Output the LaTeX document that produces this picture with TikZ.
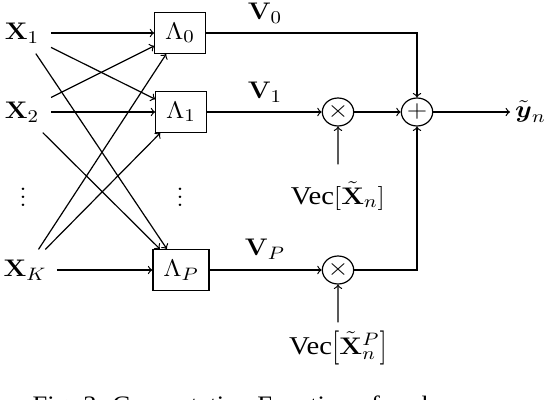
\documentclass[tikz,border=0pt]{standalone}
\usepackage{amsmath}
\usepackage{graphicx}
\usepackage[no-math]{fontspec}
\newfontfamily\tnr{Liberation Serif}
\newcommand{\vecword}{{\tnr\fontsize{12.8}{15}\selectfont Vec}}
\newcommand{\tallbr}[1]{\vcenter{\hbox{\scalebox{1}[1.42]{$#1$}}}}
\begin{document}
\begin{tikzpicture}[x=0.5pt,y=-0.5pt, line width=0.6pt,
  every node/.style={font=\fontsize{12.3}{14}\selectfont, xscale=1.12, transform shape},
  inp/.style={minimum height=20pt, inner xsep=5pt},
  lam/.style={draw, minimum height=20.5pt, inner xsep=4.6pt, inner ysep=0pt},
  op/.style={draw, circle, minimum size=14pt, inner sep=0pt},
  conn/.style={->}]
\useasboundingbox (0,0) rectangle (550,400);
\node[inp] (x1) at (22,33) {$\mathbf{X}_1$};
\node[inp] (x2) at (22,112) {$\mathbf{X}_2$};
\node[inp, inner xsep=4.4pt] (xk) at (25,270) {$\mathbf{X}_K$};
\node (d1) at (23,191) {$\vdots$};
\node[lam] (l0) at (180,33) {$\Lambda_0$};
\node[lam] (l1) at (181,112) {$\Lambda_1$};
\node[lam] (lp) at (181,270) {$\Lambda_P$};
\node (d2) at (180,191) {$\vdots$};
\node[op] (m1) at (338,112) {$\times$};
\node[op] (mp) at (338,270) {$\times$};
\node[op] (s) at (417,112) {$+$};
\node[anchor=west, inner sep=2pt] (y) at (510,112) {$\tilde{\boldsymbol{y}}_n$};
\node[minimum height=31pt] (va) at (338,196) {\vecword$[\tilde{\mathbf{X}}_n]$};
\node[minimum height=25pt] (vb) at (338,348) {\vecword$\tallbr{[}\tilde{\mathbf{X}}_n^P\tallbr{]}$};
\node (v0) at (265,13) {$\mathbf{V}_0$};
\node (v1) at (265,92) {$\mathbf{V}_1$};
\node (vp) at (265,249) {$\mathbf{V}_P$};
\node[anchor=base west, inner sep=0pt, font=\tnr\fontsize{11.8}{14}\selectfont] (cap) at (32,412) {Fig. 3: Computation Function of each neuron};
\draw[conn] (x1) -- (l0);
\draw[conn] (x1) -- (l1);
\draw[conn] (x1) -- (lp);
\draw[conn] (x2) -- (l0);
\draw[conn] (x2) -- (l1);
\draw[conn] (x2) -- (lp);
\draw[conn] (xk) -- (l0);
\draw[conn] (xk) -- (l1);
\draw[conn] (xk) -- (lp);
\draw[conn] (l0) -| (s);
\draw[conn] (l1) -- (m1);
\draw[conn] (m1) -- (s);
\draw[conn] (lp) -- (mp);
\draw[conn] (mp) -| (s);
\draw[conn] (s) -- (y);
\draw[conn] (va) -- (m1);
\draw[conn] (vb) -- (mp);
\end{tikzpicture}
\end{document}
